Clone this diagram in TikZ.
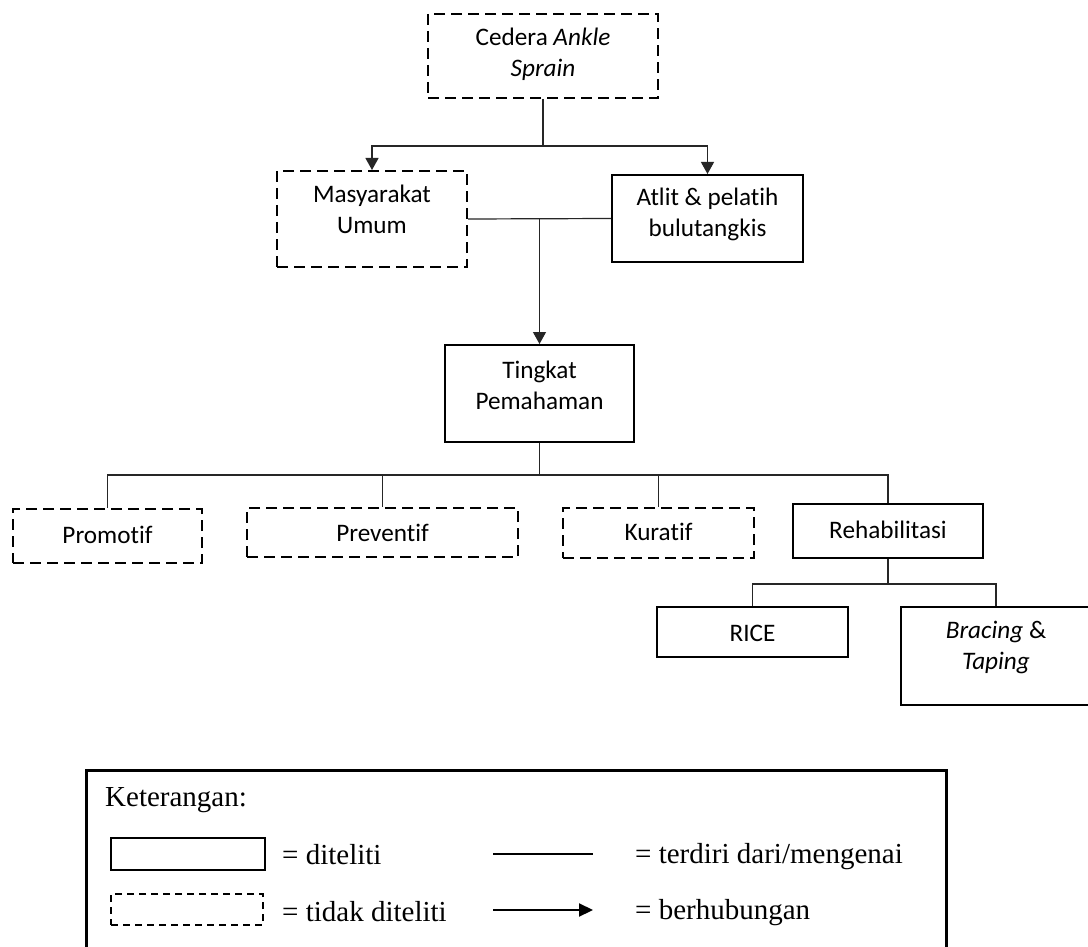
\documentclass[tikz,border=0pt]{standalone}
\usepackage{fontspec}
\setmainfont{Carlito}[Ligatures=NoCommon, RawFeature={-liga;-clig}]
\newfontfamily\tnr{Liberation Serif}
\usetikzlibrary{arrows.meta}
\tikzset{
  solidbox/.style={draw=black, line width=2pt, inner sep=0pt},
  dashbox/.style={draw=black, line width=2pt, dash pattern=on 11pt off 6pt, inner sep=0pt},
  txt/.style={align=center, font=\fontsize{25.2}{31}\selectfont, inner sep=0pt},
  conn/.style={draw=black!85, line width=1.2pt},
  arr/.style={conn, -{Triangle[width=13pt,length=12pt]}},
  legtxt/.style={font=\tnr\fontsize{29}{34}\selectfont, anchor=west, inner sep=0pt},
  legline/.style={draw=black, line width=2.2pt},
}
\begin{document}
\begin{tikzpicture}[x=1pt,y=-1pt]
\clip (0,0) rectangle (1088,947);
\fill[white] (0,0) rectangle (1088,947);

% boxes
\node[dashbox, minimum width=230pt, minimum height=84pt] (top) at (543,56) {};
\node[txt] (topt) at (543,54) {Cedera \textit{Ankle}\\\textit{Sprain}};

\node[dashbox, minimum width=190pt, minimum height=96pt] (mas) at (372,219) {};
\node[txt] (mast) at (372,209) {Masyarakat\\Umum};

\node[solidbox, minimum width=191pt, minimum height=87pt] (atl) at (707.5,218.5) {};
\node[txt] (atlt) at (707.5,214.5) {Atlit \& pelatih\\bulutangkis};

\node[solidbox, minimum width=189pt, minimum height=97pt] (tin) at (539.5,393.5) {};
\node[txt] (tint) at (539.5,385) {Tingkat\\Pemahaman};

\node[dashbox, minimum width=189pt, minimum height=54pt] (pro) at (107.5,536) {};
\node[txt] (prot) at (107.5,535) {Promotif};

\node[dashbox, minimum width=271pt, minimum height=49pt] (pre) at (382.5,532.5) {};
\node[txt] (pret) at (382.5,533) {Preventif};

\node[dashbox, minimum width=191pt, minimum height=50pt] (kur) at (658.5,533) {};
\node[txt] (kurt) at (658.5,532) {Kuratif};

\node[solidbox, minimum width=190pt, minimum height=54pt] (reh) at (888,531) {};
\node[txt] (reht) at (888,530) {Rehabilitasi};

\node[solidbox, minimum width=191pt, minimum height=50pt] (ric) at (752.5,632) {};
\node[txt] (rict) at (752.5,633) {RICE};

\node[solidbox, minimum width=190pt, minimum height=98pt] (brc) at (996,656) {};
\node[txt] (brct) at (996,647.5) {\textit{Bracing} \&\\\textit{Taping}};

% connectors
\draw[conn] (top.south) -- ++(0,47) coordinate (j1);
\draw[arr] (j1) -| (mas.north);
\draw[arr] (j1) -| (atl.north);

\draw[conn] (mas.east) -- (atl.west);
\draw[arr] (mas.east -| tin.north) -- (tin.north);

\draw[conn] (tin.south) -- ++(0,32) coordinate (j2);
\draw[conn] (j2) -| (pro.north);
\draw[conn] (j2) -| (pre.north);
\draw[conn] (j2) -| (kur.north);
\draw[conn] (j2) -| (reh.north);

\draw[conn] (reh.south) -- ++(0,25) coordinate (j3);
\draw[conn] (j3) -| (ric.north);
\draw[conn] (j3) -| (brc.north);

% legend
\node[draw=black, line width=3pt, minimum width=860pt, minimum height=210pt, anchor=north west, inner sep=0pt] (leg) at (85,769) {};
\node[legtxt] (ket) at (105,800) {Keterangan:};
\node[draw=black, line width=2.5pt, minimum width=154pt, minimum height=32pt, inner sep=0pt] (ls) at (188,854) {};
\node[draw=black, line width=2.5pt, dash pattern=on 7pt off 5pt, minimum width=152pt, minimum height=31pt, inner sep=0pt] (ld) at (187,909.5) {};
\node[legtxt] (l1) at (282,855) {= diteliti};
\node[legtxt] (l2) at (282,912) {= tidak diteliti};
\coordinate (a1) at (493,854);
\coordinate (a2) at (593,854);
\coordinate (b1) at (493,910);
\coordinate (b2) at (593,910);
\draw[legline] (a1) -- (a2);
\draw[legline, -{Triangle[width=13pt,length=14pt]}] (b1) -- (b2);
\node[legtxt] (l3) at (635,857) {= terdiri dari/mengenai};
\node[legtxt] (l4) at (635,913) {= berhubungan};
\end{tikzpicture}
\end{document}
